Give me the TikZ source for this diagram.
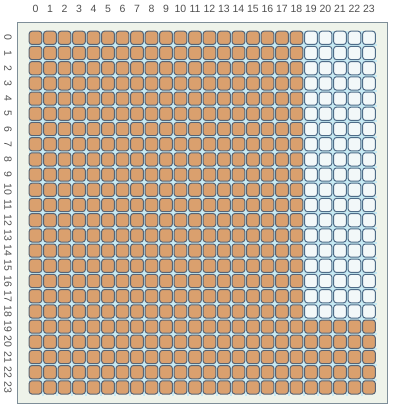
\documentclass[tikz,border=0pt]{standalone}
\usepackage{fontspec}
\setmainfont{Liberation Sans}
\definecolor{panelfill}{HTML}{EEF3EA}
\definecolor{panelline}{HTML}{7E8E98}
\definecolor{gapcol}{HTML}{C6EAF4}
\definecolor{ofill}{HTML}{DAA06E}
\definecolor{oline}{HTML}{586474}
\definecolor{lfill}{HTML}{F2F8F9}
\definecolor{lline}{HTML}{4E6C88}
\definecolor{labcol}{HTML}{505050}
\tikzset{
  panel/.style={draw=panelline, fill=panelfill, line width=0.8pt},
  gapline/.style={draw=gapcol, line width=2pt},
  basecell/.style={rectangle, rounded corners=2.6pt, minimum width=12.6pt, minimum height=13.2pt, inner sep=0pt, line width=1pt},
  ocell/.style={basecell, fill=ofill, draw=oline},
  lcell/.style={basecell, fill=lfill, draw=lline},
  lab/.style={font=\fontsize{10.5}{11}\selectfont, text=labcol, inner sep=0pt}
}
\begin{document}
\begin{tikzpicture}[x=1pt,y=-1pt]
\useasboundingbox (0,0) rectangle (396,408);
\fill[white] (0,0) rectangle (396,408);
\draw[panel] (17,22) rectangle (387,403);
% light blue gaps between cells
\foreach \i in {1,...,23}{
  \draw[gapline] ({29+14.5*\i-0.9},31) -- ++(0,365);
  \draw[gapline] (29,{31+15.2*\i-0.9}) -- ++(348,0);
}
% cells
\foreach \i in {0,...,23}{
  \foreach \j in {0,...,23}{
    \ifnum\i>18
      \ifnum\j<19
        \node[lcell] (c-\i-\j) at ({35.5+14.5*\i},{37.8+15.2*\j}) {};
      \else
        \node[ocell] (c-\i-\j) at ({35.5+14.5*\i},{37.8+15.2*\j}) {};
      \fi
    \else
      \node[ocell] (c-\i-\j) at ({35.5+14.5*\i},{37.8+15.2*\j}) {};
    \fi
  }
}
% labels
\foreach \i in {0,...,23}{
  \node[lab] (col-\i) at ({35.5+14.5*\i},9) {\i};
  \node[lab, rotate=-90] (row-\i) at (8,{37.8+15.2*\i}) {\i};
}
\end{tikzpicture}
\end{document}
